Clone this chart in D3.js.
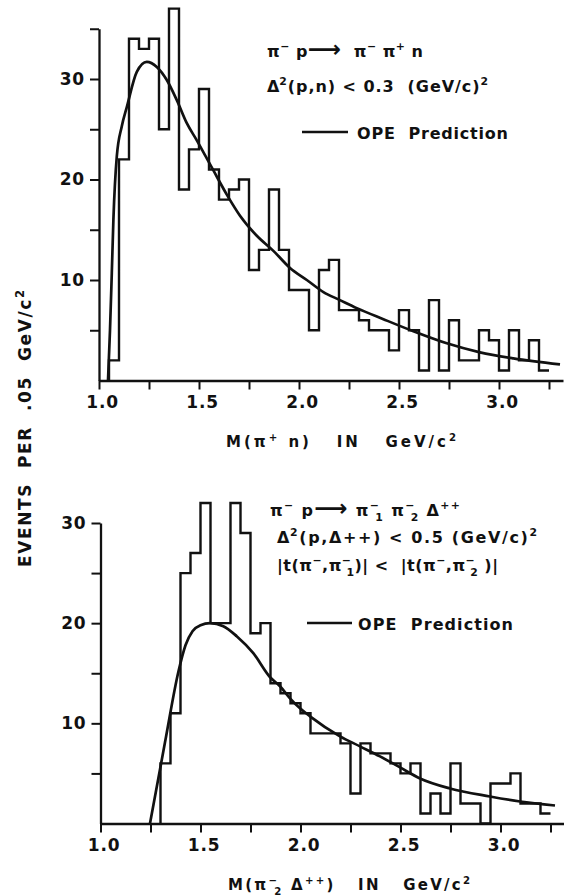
<!DOCTYPE html>
<html><head><meta charset="utf-8">
<script src="https://cdn.jsdelivr.net/npm/d3@7"></script>
<style>
body{margin:0;background:#fff;}
svg{display:block;background:#fff;}
text{font-family:"DejaVu Sans",sans-serif;fill:#111;white-space:pre;}
</style>
</head><body>
<svg id="chart" width="564" height="895"></svg>
<script>
// ---------- DATA ----------
const binWidth = 0.05;
// Top panel: M(pi+ n), bins lower edges and counts
const topBinLow = [1.05,1.10,1.15,1.20,1.25,1.30,1.35,1.40,1.45,1.50,1.55,1.60,1.65,1.70,1.75,1.80,1.85,1.90,1.95,2.00,2.05,2.10,2.15,2.20,2.25,2.30,2.35,2.40,2.45,2.50,2.55,2.60,2.65,2.70,2.75,2.80,2.85,2.90,2.95,3.00,3.05,3.10,3.15,3.20];
const topCounts = [2,22,34,33,34,25,37,19,23,29,21,18,19,20,11,13,19,13,9,9,5,11,12,7,7,6,5,5,3,7,5,1,8,1,6,2,2,5,4,1,5,2,4,1];
// Top OPE prediction curve
const topCurveMass  = [1.045,1.055,1.064,1.072,1.089,1.114,1.139,1.189,1.239,1.289,1.339,1.389,1.439,1.489,1.572,1.639,1.705,1.789,1.872,1.955,2.039,2.122,2.205,2.289,2.422,2.572,2.739,2.905,3.072,3.305];
const topCurveValue = [0,5,10.7,16,22.3,25.3,27.2,30.7,31.7,31.2,29.9,27.9,25.6,23.9,20.9,18.5,16.4,14.4,12.9,11.2,10.0,8.8,8.0,7.2,6.1,4.9,3.7,2.8,2.2,1.6];

// Bottom panel: M(pi2- Delta++)
const botBinLow = [1.30,1.35,1.40,1.45,1.50,1.55,1.60,1.65,1.70,1.75,1.80,1.85,1.90,1.95,2.00,2.05,2.10,2.15,2.20,2.25,2.30,2.35,2.40,2.45,2.50,2.55,2.60,2.65,2.70,2.75,2.80,2.85,2.90,2.95,3.00,3.05,3.10,3.15,3.20];
const botCounts = [6,11,25,27,32,20,20,32,29,19,20,14,13,12,11,9,9,9,8,3,8,7,7,6,5,6,1,3,1,6,2,2,0,4,4,5,2,2,1];
const botCurveMass  = [1.2475,1.3225,1.39,1.425,1.46,1.50,1.5475,1.614,1.681,1.764,1.848,1.8975,1.9475,1.9975,2.0475,2.1975,2.2975,2.3975,2.4975,2.5975,2.7475,2.9475,3.0975,3.2725];
const botCurveValue = [0,8.1,15.2,17.8,19.2,19.8,20.0,19.7,18.7,17.0,14.6,13.7,12.5,11.5,10.7,8.7,7.7,6.7,5.6,4.5,3.5,2.7,2.2,1.8];

// Ticks
const xTickValues = [1.0,1.25,1.5,1.75,2.0,2.25,2.5,2.75,3.0,3.25];
const xTickLabels = ["1.0","","1.5","","2.0","","2.5","","3.0",""];
const topYTicks = [5,10,15,20,25,30,35];
const topYLabels = ["","10","","20","","30",""];
const botYTicks = [5,10,15,20,25,30];
const botYLabels = ["","10","","20","","30"];

// ---------- DRAW ----------
const svg = d3.select("#chart");
svg.append("rect").attr("width",564).attr("height",895).attr("fill","#fff");
const INK = "#111";

function rich(g, x, y, parts, size, opts = {}) {
  const t = g.append("text").attr("x", x).attr("y", y)
    .attr("font-size", size).attr("font-weight", opts.weight || "bold")
    .attr("xml:space", "preserve");
  if (opts.ls) t.attr("letter-spacing", opts.ls);
  if (opts.anchor) t.attr("text-anchor", opts.anchor);
  if (opts.len) t.attr("textLength", opts.len).attr("lengthAdjust", "spacing");
  if (opts.transform) t.attr("transform", opts.transform);
  let cur = 0;
  parts.forEach(p => {
    const [s, mode, dx] = p;
    const shift = mode === "sup" ? -0.42 * size : mode === "sub" ? 0.3 * size : 0;
    const ts = t.append("tspan").text(s).attr("dy", (shift - cur).toFixed(2));
    if (mode === "sup" || mode === "sub") ts.attr("font-size", (size * 0.68).toFixed(1));
    if (mode === "big") ts.attr("font-size", (size * 1.45).toFixed(1));
    if (dx) ts.attr("dx", dx);
    cur = shift;
  });
  return t;
}

function panel(cfg) {
  const x = d3.scaleLinear().domain(cfg.xDomain).range(cfg.xRange);
  const y = d3.scaleLinear().domain(cfg.yDomain).range(cfg.yRange);
  const g = svg.append("g");

  // y axis
  const ya = d3.axisLeft(y).tickValues(cfg.yTicks)
    .tickFormat((d, i) => cfg.yLabels[i]).tickSize(9).tickSizeOuter(0).tickPadding(5);
  const yg = g.append("g").attr("transform", `translate(${cfg.xRange[0]},0)`).call(ya);
  // x axis
  const xa = d3.axisBottom(x).tickValues(xTickValues)
    .tickFormat((d, i) => xTickLabels[i]).tickSize(9).tickSizeOuter(0).tickPadding(6);
  const xg = g.append("g").attr("transform", `translate(0,${cfg.yRange[0]})`).call(xa);
  [yg, xg].forEach(a => {
    a.selectAll("path.domain").attr("stroke", INK).attr("stroke-width", 2.3);
    a.selectAll(".tick line").attr("stroke", INK).attr("stroke-width", 2);
    a.selectAll(".tick text").attr("fill", INK).attr("font-family", "DejaVu Sans")
      .attr("font-weight", "bold").attr("font-size", 17).attr("letter-spacing", 0.8);
  });
  xg.selectAll(".tick text").attr("dx", 3);

  // histogram step path
  let d = `M${x(cfg.binLow[0])},${y(0)}`;
  cfg.binLow.forEach((b, i) => {
    d += `L${x(b)},${y(cfg.counts[i])}L${x(b + binWidth)},${y(cfg.counts[i])}`;
  });
  g.append("path").attr("d", d).attr("fill", "none").attr("stroke", INK)
    .attr("stroke-width", 2.4).attr("stroke-linejoin", "miter");

  // OPE curve
  const line = d3.line().x(d => x(d[0])).y(d => y(d[1])).curve(d3.curveMonotoneX);
  g.append("path").datum(cfg.curveMass.map((m, i) => [m, cfg.curveValue[i]]))
    .attr("d", line).attr("fill", "none").attr("stroke", INK).attr("stroke-width", 2.7);
  return g;
}

panel({
  xDomain: [1.0, 3.32], xRange: [99, 563],
  yDomain: [0, 35], yRange: [380.5, 28.75],
  yTicks: topYTicks, yLabels: topYLabels,
  binLow: topBinLow, counts: topCounts,
  curveMass: topCurveMass, curveValue: topCurveValue
});
panel({
  xDomain: [1.0, 3.315], xRange: [100.5, 563.5],
  yDomain: [0, 30], yRange: [823.5, 523],
  yTicks: botYTicks, yLabels: botYLabels,
  binLow: botBinLow, counts: botCounts,
  curveMass: botCurveMass, curveValue: botCurveValue
});

// ---------- ANNOTATIONS ----------
const ann = svg.append("g");
rich(ann, 267, 57, [["π",""],["−","sup"],[" p",""],["⟶","big"],["  π",""],["−","sup"],[" π",""],["+","sup"],[" n",""]], 16, {len: 156});
rich(ann, 267, 92, [["Δ",""],["2","sup",-1],["(p,n) < 0.3  (GeV/c)",""],["2","sup"]], 16, {len: 221});
ann.append("line").attr("x1",302).attr("x2",348).attr("y1",132).attr("y2",132).attr("stroke",INK).attr("stroke-width",2.3);
rich(ann, 357, 139, [["OPE  Prediction",""]], 16, {len: 151});

rich(ann, 270, 516, [["π",""],["−","sup"],[" p",""],["⟶","big"],[" π",""],["−","sup"],["1","sub",-5],[" π",""],["−","sup"],["2","sub",-5],[" Δ",""],["++","sup"]], 16, {len: 190});
rich(ann, 277, 543, [["Δ",""],["2","sup",-1],["(p,Δ++) < 0.5 (GeV/c)",""],["2","sup"]], 16, {len: 260});
rich(ann, 277, 571, [["|t(π",""],["−","sup"],[",π",""],["−","sup"],["1","sub",-5],[")| <  |t(π",""],["−","sup"],[",π",""],["−","sup"],["2","sub",-5],[" )|",""]], 16, {len: 221});
ann.append("line").attr("x1",307).attr("x2",352).attr("y1",623).attr("y2",623).attr("stroke",INK).attr("stroke-width",2.3);
rich(ann, 358, 630, [["OPE  Prediction",""]], 16, {len: 155});

// axis titles
rich(ann, 226, 447, [["M(π",""],["+","sup"],[" n)   IN   GeV/c",""],["2","sup"]], 15, {len: 230});
rich(ann, 228, 890, [["M(π",""],["−","sup"],["2","sub",-5],[" Δ",""],["++","sup"],[")   IN   GeV/c",""],["2","sup"]], 15, {len: 242});
rich(ann, 0, 0, [["EVENTS  PER  .05  GeV/c",""],["2","sup"]], 17, {len: 277, transform: "translate(31,567) rotate(-90)"});
</script>
</body></html>
